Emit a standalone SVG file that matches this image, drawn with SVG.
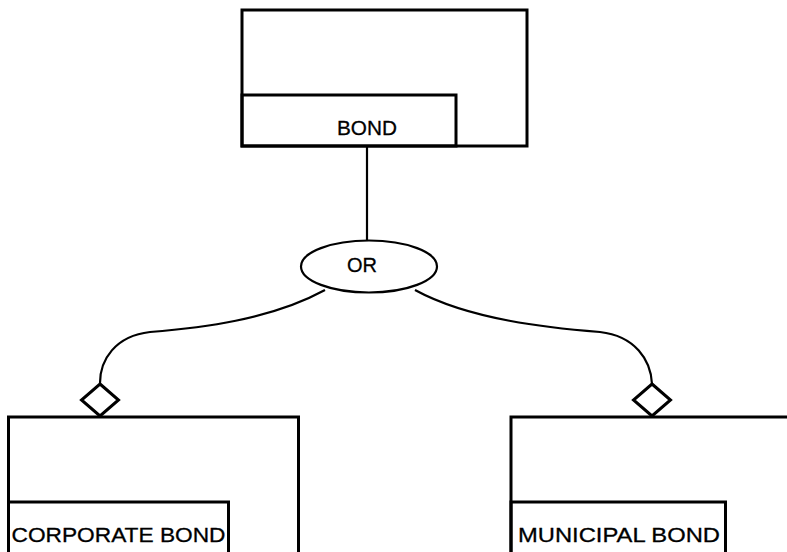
<svg xmlns="http://www.w3.org/2000/svg" width="787" height="552" viewBox="0 0 787 552">
<style>
.box{fill:none;stroke:#000;stroke-width:3}
.conn{fill:none;stroke:#000;stroke-width:2.2}
.dia{fill:#fff;stroke:#000;stroke-width:3;stroke-linejoin:miter}
.lbl{font-family:"Liberation Sans",Arial,sans-serif;font-size:21px;fill:#000;stroke:#000;stroke-width:0.3}
</style>
<rect width="787" height="552" fill="#fff"/>
<g id="connectors">
<line class="conn" x1="367" y1="146" x2="367" y2="240"/>
<path class="conn" d="M325,290 C270,320 200,328 150,332 C115,336 100,360 100,383"/>
<path class="conn" d="M415,290 C470,320 550,328 600,332 C635,336 651,360 652,384"/>
<polygon class="dia" points="100,384 118.5,400 100,416 81.5,400"/>
<polygon class="dia" points="652,384 670.5,400 652,416 633.5,400"/>
</g>
<g id="bond">
<rect class="box" x="242" y="10" width="285" height="136"/>
<rect class="box" x="242" y="95" width="214" height="51"/>
<text class="lbl" x="337" y="135" textLength="60" lengthAdjust="spacingAndGlyphs">BOND</text>
</g>
<g id="or">
<ellipse class="conn" cx="369" cy="266.5" rx="68" ry="26"/>
<text class="lbl" x="347" y="272" textLength="30" lengthAdjust="spacingAndGlyphs">OR</text>
</g>
<g id="corporate-bond">
<rect class="box" x="8.5" y="417" width="290" height="150"/>
<rect class="box" x="8.5" y="502" width="220" height="65"/>
<text class="lbl" x="11.5" y="541.5" textLength="214" lengthAdjust="spacingAndGlyphs">CORPORATE BOND</text>
</g>
<g id="municipal-bond">
<rect class="box" x="511" y="417" width="290" height="150"/>
<rect class="box" x="511" y="502" width="214.5" height="65"/>
<text class="lbl" x="518" y="541.5" textLength="202" lengthAdjust="spacingAndGlyphs">MUNICIPAL BOND</text>
</g>
</svg>
